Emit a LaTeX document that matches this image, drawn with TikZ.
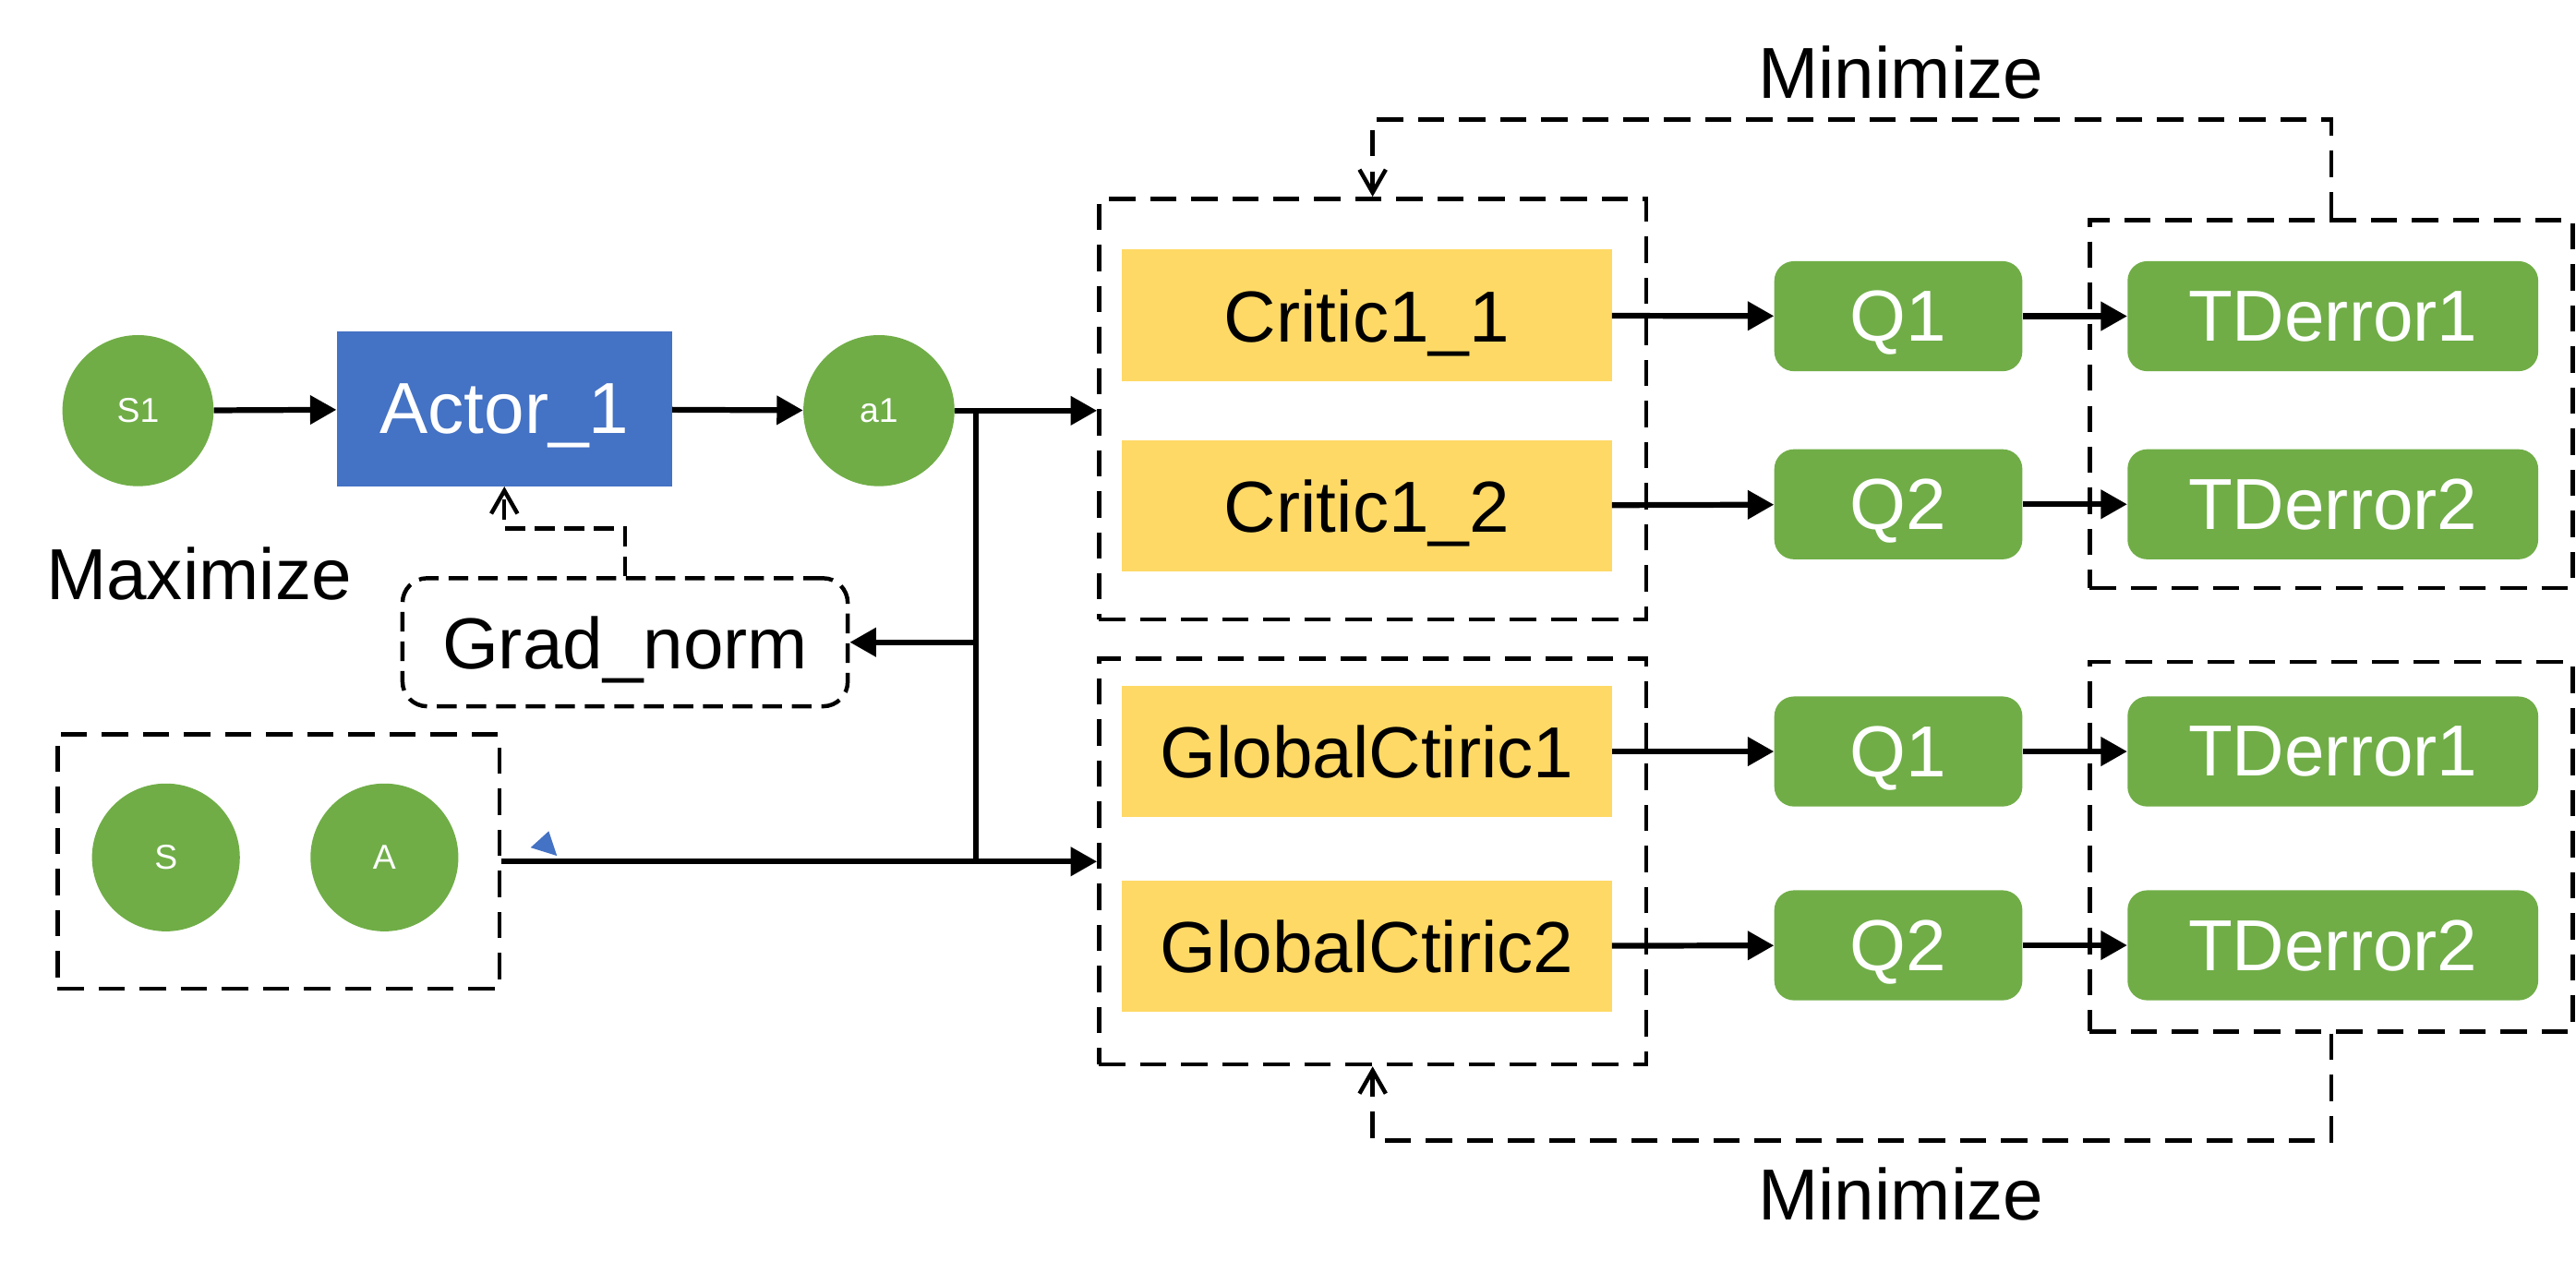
\documentclass[tikz,border=0pt]{standalone}
\usepackage{fontspec}
\setmainfont{Liberation Sans}
\usetikzlibrary{arrows.meta}
\definecolor{nodegreen}{HTML}{70AD47}
\definecolor{actorblue}{HTML}{4472C4}
\definecolor{criticyellow}{HTML}{FFD966}
\begin{document}
\begin{tikzpicture}[x=1pt, y=-1pt]
    \tikzstyle{every node}=[inner sep=0pt, text depth=0pt, font=\fontsize{44}{50}\selectfont]
    \tikzstyle{circ}=[circle, fill=nodegreen, text=white, minimum size=92pt, font=\fontsize{21}{25}\selectfont]
    \tikzstyle{actorbox}=[fill=actorblue, text=white, minimum width=204pt, minimum height=94pt]
    \tikzstyle{critbox}=[fill=criticyellow, minimum width=298pt, minimum height=80pt]
    \tikzstyle{qbox}=[fill=nodegreen, text=white, rounded corners=12pt, minimum width=151pt, minimum height=67pt]
    \tikzstyle{tdbox}=[qbox, minimum width=250pt]
    \tikzstyle{dashbox}=[draw, line width=2.5pt, dash pattern=on 16pt off 9pt]
    \tikzstyle{flow}=[line width=3.5pt, -{Triangle[length=16pt, width=17pt]}]
    \tikzstyle{minline}=[line width=2.5pt, dash pattern=on 16pt off 9pt, -{Straight Barb[length=14pt, width=16pt]}]

    \useasboundingbox (0,0) rectangle (1568,782);

% dashed group boxes
    \node [dashbox, minimum width=333pt, minimum height=256pt] (crbox) at (835.5,249) {};
    \node [dashbox, minimum width=333pt, minimum height=247pt] (gbbox) at (835.5,524.5) {};
    \node [dashbox, minimum width=294pt, minimum height=224pt] (tdboxA) at (1419,246) {};
    \node [dashbox, minimum width=294pt, minimum height=225pt] (tdboxB) at (1419,515.5) {};
    \node [dashbox, minimum width=269pt, minimum height=155pt] (sabox) at (169.5,524.5) {};

% actor part
    \node [circ] (s1) at (84,250) {S1};
    \node [actorbox] (actor) at (307,249) {Actor\_1};
    \node [circ] (a1) at (535,250) {a1};
    \node [dashbox, dash pattern=on 12pt off 6pt, rounded corners=15pt, minimum width=271pt, minimum height=78pt] (grad) at (380.5,391) {Grad\_norm};
    \node [anchor=west] (maxi) at (28,349) {Maximize};
    \node [circ, minimum size=90pt] (s) at (101,522) {S};
    \node [circ, minimum size=90pt] (A) at (234,522) {A};

% critics
    \node [critbox] (cr1) at (832,192) {Critic1\_1};
    \node [critbox] (cr2) at (832,308) {Critic1\_2};
    \node [critbox] (gc1) at (832,457.5) {GlobalCtiric1};
    \node [critbox] (gc2) at (832,576) {GlobalCtiric2};
    \node [qbox] (qa1) at (1155.5,192.5) {Q1};
    \node [qbox] (qa2) at (1155.5,307) {Q2};
    \node [qbox] (qb1) at (1155.5,457.5) {Q1};
    \node [qbox] (qb2) at (1155.5,575.5) {Q2};
    \node [tdbox] (tda1) at (1420,192.5) {TDerror1};
    \node [tdbox] (tda2) at (1420,307) {TDerror2};
    \node [tdbox] (tdb1) at (1420,457.5) {TDerror1};
    \node [tdbox] (tdb2) at (1420,575.5) {TDerror2};
    \node (mintop) at (1157,44) {Minimize};
    \node (minbot) at (1157,727) {Minimize};

% connectors
    \draw [flow] (s1) -- (actor);
    \draw [flow] (actor) -- (a1);
    \coordinate (split) at (594,250);
    \draw [flow] (a1.east) -- (a1.east -| crbox.west);
    \draw [line width=3.5pt] (split) -- (split |- sabox.east);
    \draw [flow] (sabox.east) -- (sabox.east -| gbbox.west);
    \draw [flow] (split |- grad.east) -- (grad.east);
    \draw [minline, dash pattern=on 12pt off 6pt] (grad.north) -- ++(0,-29) -| (actor.south);
    \draw [fill=actorblue, draw=none] (323,516) -- (334,506) -- (339,521) -- cycle;
    \foreach \c/\q/\t in {cr1/qa1/tda1, cr2/qa2/tda2, gc1/qb1/tdb1, gc2/qb2/tdb2} {
        \draw [flow] (\c) -- (\q);
        \draw [flow] (\q) -- (\t);
    }
    \draw [minline] (tdboxA.north) -- ++(0,-60) -| (crbox.north);
    \draw [minline] (tdboxB.south) -- ++(0,65) -| (gbbox.south);

\end{tikzpicture}
\end{document}
